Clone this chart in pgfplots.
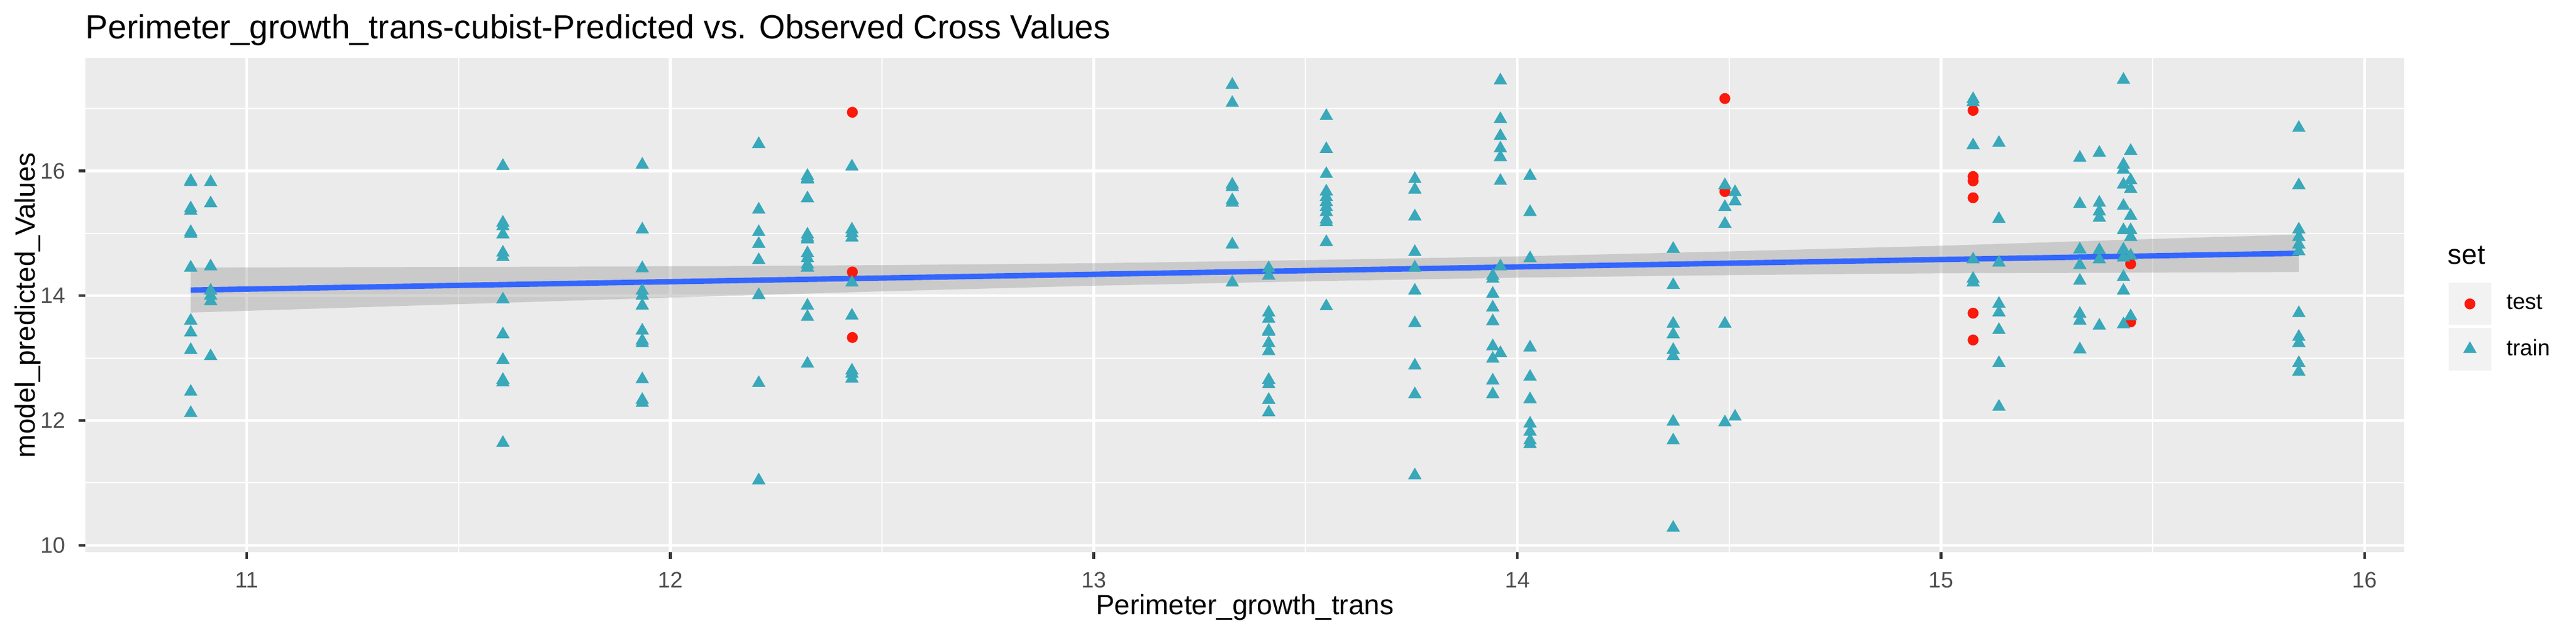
\documentclass[border=0pt]{standalone}
\usepackage{pgfplots}
\pgfplotsset{compat=1.18}
\usepackage{fontspec}
\setmainfont{Liberation Sans}
\definecolor{panelbg}{HTML}{EBEBEB}
\definecolor{keybg}{HTML}{F2F2F2}
\definecolor{traincol}{RGB}{56,168,186}
\definecolor{testcol}{RGB}{250,25,10}
\definecolor{smoothcol}{HTML}{3366FF}
\definecolor{bandcol}{HTML}{999999}
\definecolor{tickcol}{HTML}{333333}
\definecolor{labelcol}{HTML}{4D4D4D}
\begin{document}
\begin{tikzpicture}
\useasboundingbox (0,0) rectangle (1014.96pt,249.84pt);
\begin{axis}[
  at={(33.6pt,32.4pt)}, anchor=south west,
  scale only axis, width=913.7pt, height=194.6pt,
  xmin=10.619, xmax=16.094, ymin=9.89, ymax=17.81,
  axis background/.style={fill=panelbg},
  axis line style={draw=none},
  xtick={11,12,13,14,15,16}, ytick={10,12,14,16},
  minor xtick={11.5,12.5,13.5,14.5,15.5}, minor ytick={11,13,15,17},
  grid=both,
  major grid style={white, line width=1.07pt},
  minor grid style={white, line width=0.53pt},
  tick pos=left, tick align=outside,
  major tick length=2.75pt, minor tick length=0pt,
  tick style={color=tickcol, line width=1.07pt},
  /pgf/number format/assume math mode=true,
  ticklabel style={font=\fontsize{8.8}{10}\selectfont, color=labelcol, inner sep=0pt},
  xticklabel style={anchor=north, yshift=-4.95pt},
  yticklabel style={anchor=east, xshift=-4.95pt},
  xlabel={Perimeter\_growth\_trans}, ylabel={model\_predicted\_Values},
  label style={font=\fontsize{11}{13}\selectfont, inner sep=0pt},
  xlabel style={at={(axis description cs:0.5,-0.1264)}, anchor=base},
  ylabel style={at={(axis description cs:-0.0217,0.5)}, anchor=base, rotate=0},
  clip=false,
  legend style={at={(axis description cs:1.01893,0.54625)}, anchor=north west,
    draw=none, fill=none, inner sep=0pt, row sep=1.1pt, column sep=6.05pt,
    font=\fontsize{8.8}{10}\selectfont, nodes={inner sep=0pt}},
  legend cell align=left,
  legend image code/.code={
    \fill[keybg] (0pt,-8.15pt) rectangle (16.3pt,8.15pt);
    \draw[#1, only marks] plot coordinates {(8.15pt,0pt)};
  },
]
% test set
\addplot[only marks, mark=*, color=testcol, mark size=1.95pt] coordinates {
(12.430,16.94) (12.430,14.38) (12.430,13.33)
(14.490,17.16) (14.490,15.67)
(15.076,16.97) (15.076,15.91) (15.076,15.84) (15.076,15.57) (15.076,13.72) (15.076,13.29)
(15.448,14.51) (15.448,13.58)
};
\addlegendentry{test}
% train set
\addplot[only marks, mark=triangle*, color=traincol, mark size=2.95pt, mark options={line width=0.1pt}] coordinates {
(10.868,15.84) (10.868,15.82) (10.868,15.40) (10.868,15.36) (10.868,15.02) (10.868,14.99)
(10.868,14.45) (10.868,13.60) (10.868,13.41) (10.868,13.13) (10.868,12.46) (10.868,12.12)
(10.915,15.82) (10.915,15.48) (10.915,14.47) (10.915,14.08) (10.915,14.00) (10.915,13.91) (10.915,13.03)
(11.605,16.08) (11.605,15.17) (11.605,15.11) (11.605,14.98) (11.605,14.69) (11.605,14.62)
(11.605,13.94) (11.605,13.38) (11.605,12.97) (11.605,12.65) (11.605,12.61) (11.605,11.64)
(11.934,16.10) (11.934,15.06) (11.934,14.44) (11.934,14.08) (11.934,14.00) (11.934,13.84)
(11.934,13.44) (11.934,13.28) (11.934,13.24) (11.934,12.66) (11.934,12.33) (11.934,12.28)
(12.209,16.43) (12.209,15.38) (12.209,15.02) (12.209,14.83) (12.209,14.57) (12.209,14.01) (12.209,12.60) (12.209,11.04)
(12.324,15.92) (12.324,15.88) (12.324,15.86) (12.324,15.56) (12.324,14.98) (12.324,14.93) (12.324,14.90)
(12.324,14.68) (12.324,14.60) (12.324,14.50) (12.324,14.45) (12.324,13.84) (12.324,13.66) (12.324,12.91)
(12.429,16.07) (12.429,15.06) (12.429,15.00) (12.429,14.93) (12.429,14.21) (12.429,13.68)
(12.429,12.80) (12.429,12.75) (12.429,12.67)
(13.327,17.38) (13.327,17.09) (13.327,15.78) (13.327,15.74) (13.327,15.53) (13.327,15.49) (13.327,14.82) (13.327,14.21)
(13.413,14.44) (13.413,14.32) (13.413,13.73) (13.413,13.63) (13.413,13.44) (13.413,13.42)
(13.413,13.24) (13.413,13.11) (13.413,12.65) (13.413,12.58) (13.413,12.33) (13.413,12.13)
(13.549,16.88) (13.549,16.35) (13.549,15.95) (13.549,15.67) (13.549,15.58) (13.549,15.50)
(13.549,15.42) (13.549,15.34) (13.549,15.22) (13.549,15.18) (13.549,14.86) (13.549,13.83)
(13.758,15.87) (13.758,15.70) (13.758,15.27) (13.758,14.70) (13.758,14.45) (13.758,14.08)
(13.758,13.56) (13.758,12.88) (13.758,12.42) (13.758,11.12)
(13.942,14.32) (13.942,14.27) (13.942,14.03) (13.942,13.81) (13.942,13.59) (13.942,13.19)
(13.942,12.99) (13.942,12.64) (13.942,12.42)
(13.960,17.45) (13.960,16.83) (13.960,16.56) (13.960,16.36) (13.960,16.22) (13.960,15.84) (13.960,14.47) (13.960,13.08)
(14.030,15.92) (14.030,15.34) (14.030,14.60) (14.030,13.17) (14.030,12.70) (14.030,12.34)
(14.030,11.95) (14.030,11.82) (14.030,11.68) (14.030,11.62)
(14.368,14.75) (14.368,14.17) (14.368,13.55) (14.368,13.38) (14.368,13.13) (14.368,13.03)
(14.368,11.98) (14.368,11.68) (14.368,10.28)
(14.490,15.77) (14.490,15.42) (14.490,15.15) (14.490,13.55) (14.490,11.97)
(14.514,15.66) (14.514,15.51) (14.514,12.06)
(15.076,17.15) (15.076,17.10) (15.076,16.41) (15.076,14.58) (15.076,14.27) (15.076,14.21)
(15.137,16.45) (15.137,15.23) (15.137,14.53) (15.137,13.87) (15.137,13.73) (15.137,13.45) (15.137,12.92) (15.137,12.22)
(15.328,16.21) (15.328,15.47) (15.328,14.74) (15.328,14.49) (15.328,14.24) (15.328,13.71) (15.328,13.60) (15.328,13.14)
(15.374,16.29) (15.374,15.49) (15.374,15.35) (15.374,15.25) (15.374,14.73) (15.374,14.58) (15.374,13.52)
(15.431,17.46) (15.431,16.10) (15.431,16.02) (15.431,15.78) (15.431,15.44) (15.431,15.05)
(15.431,14.74) (15.431,14.61) (15.431,14.30) (15.431,14.08) (15.431,13.54)
(15.448,16.32) (15.448,15.85) (15.448,15.71) (15.448,15.28) (15.448,15.05) (15.448,14.94) (15.448,14.64) (15.448,13.67)
(15.845,16.69) (15.845,15.77) (15.845,15.06) (15.845,14.94) (15.845,14.82) (15.845,14.71)
(15.845,13.72) (15.845,13.34) (15.845,13.24) (15.845,12.92) (15.845,12.78)
};
\addlegendentry{train}
% confidence band
\addplot[forget plot, draw=none, fill=bandcol, fill opacity=0.4] coordinates {
(10.868,14.45) (12.0,14.47) (12.5,14.49) (13.0,14.52) (13.5,14.57) (14.0,14.63) (14.5,14.71) (15.0,14.80) (15.5,14.91) (15.845,14.98)
(15.845,14.38) (15.5,14.37) (15.0,14.36) (14.5,14.33) (14.0,14.29) (13.5,14.23) (13.0,14.16) (12.5,14.07) (12.0,13.97) (10.868,13.73)
} -- cycle;
% regression line
\addplot[forget plot, color=smoothcol, line width=2.13pt] coordinates {(10.868,14.09) (15.845,14.68)};
\end{axis}
\node[anchor=base west, inner sep=0pt, font=\fontsize{13.2}{15}\selectfont] at (33.6pt,234.6pt) {Perimeter\_growth\_trans-cubist-Predicted vs. Observed Cross Values};
\node[anchor=base west, inner sep=0pt, font=\fontsize{11}{13}\selectfont] at (964.3pt,145.9pt) {set};
\end{tikzpicture}
\end{document}
